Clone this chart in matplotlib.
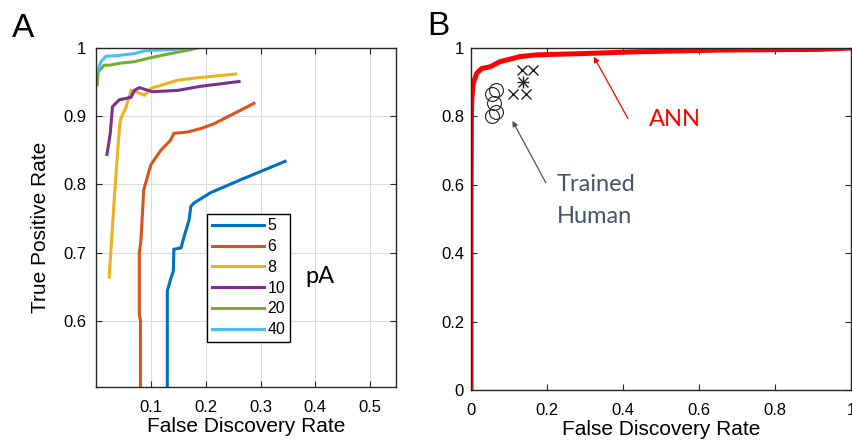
import numpy as np
import matplotlib.pyplot as plt
from matplotlib.ticker import FuncFormatter

plt.rcParams['font.family'] = ['Liberation Sans', 'DejaVu Sans']

# ── Panel A data: ROC-like curves for each noise level (pA) ──
levels = ['5', '6', '8', '10', '20', '40']
colors = ['#0072BD', '#D95319', '#EDB120', '#7E2F8E', '#77AC30', '#4DBEEE']

fdr_5 = [0.130, 0.130, 0.136, 0.141, 0.142, 0.155, 0.159, 0.170, 0.173, 0.179, 0.209, 0.264, 0.345]
tpr_5 = [0.504, 0.644, 0.661, 0.673, 0.705, 0.707, 0.719, 0.749, 0.768, 0.773, 0.788, 0.807, 0.834]

fdr_6 = [0.081, 0.081, 0.079, 0.079, 0.082, 0.087, 0.100, 0.118, 0.136, 0.142, 0.167, 0.191, 0.215, 0.288]
tpr_6 = [0.504, 0.600, 0.610, 0.700, 0.719, 0.792, 0.829, 0.850, 0.865, 0.875, 0.877, 0.882, 0.889, 0.919]

fdr_8 = [0.024, 0.033, 0.041, 0.044, 0.055, 0.064, 0.076, 0.088, 0.100, 0.149, 0.191, 0.255]
tpr_8 = [0.664, 0.776, 0.865, 0.894, 0.914, 0.938, 0.935, 0.931, 0.941, 0.953, 0.957, 0.962]

fdr_10 = [0.020, 0.026, 0.030, 0.042, 0.064, 0.070, 0.079, 0.103, 0.149, 0.191, 0.261]
tpr_10 = [0.844, 0.875, 0.914, 0.924, 0.928, 0.938, 0.942, 0.936, 0.938, 0.944, 0.951]

fdr_20 = [0.002, 0.004, 0.015, 0.025, 0.045, 0.070, 0.100, 0.130, 0.161, 0.185]
tpr_20 = [0.946, 0.965, 0.975, 0.975, 0.978, 0.980, 0.986, 0.991, 0.996, 1.000]

fdr_40 = [0.002, 0.009, 0.018, 0.039, 0.070, 0.088, 0.112, 0.142, 0.164]
tpr_40 = [0.965, 0.980, 0.988, 0.989, 0.992, 0.996, 0.997, 0.998, 1.000]

curves_fdr = [fdr_5, fdr_6, fdr_8, fdr_10, fdr_20, fdr_40]
curves_tpr = [tpr_5, tpr_6, tpr_8, tpr_10, tpr_20, tpr_40]

# ── Panel B data: ANN curve + trained human points ──
ann_fdr = [0.0, 0.0, 0.001, 0.002, 0.006, 0.015, 0.028, 0.050, 0.076, 0.129, 0.172, 0.301, 0.435, 0.654, 0.916, 1.0]
ann_tpr = [0.0, 0.507, 0.780, 0.848, 0.897, 0.926, 0.940, 0.945, 0.960, 0.975, 0.980, 0.984, 0.989, 0.994, 0.996, 1.0]

human_o_fdr = [0.054, 0.066, 0.060, 0.054, 0.066]
human_o_tpr = [0.800, 0.814, 0.840, 0.867, 0.877]
human_x_fdr = [0.133, 0.164, 0.111, 0.145, 0.137]
human_x_tpr = [0.936, 0.936, 0.865, 0.865, 0.901]

fig = plt.figure(figsize=(8.52, 4.43), dpi=100)
axA = fig.add_axes([0.1127, 0.1264, 0.352, 0.765])
axB = fig.add_axes([0.5528, 0.1196, 0.446, 0.772])

spine_c = '#262626'

# ── Panel A ──
for fx, ty, c, lab in zip(curves_fdr, curves_tpr, colors, levels):
    axA.plot(fx, ty, color=c, lw=2.2, label=lab, solid_joinstyle='miter')

axA.set_xlim(0.0, 0.547)
axA.set_ylim(0.503, 1.0)
axA.set_xticks([0.1, 0.2, 0.3, 0.4, 0.5])
axA.set_yticks([0.6, 0.7, 0.8, 0.9, 1.0])
axA.grid(True, color='#dcdcdc', lw=0.8)
axA.set_axisbelow(True)
axA.set_xlabel('False Discovery Rate', fontsize=15, labelpad=2)
axA.set_ylabel('True Positive Rate', fontsize=15)
axA.yaxis.set_label_coords(-0.155, 0.47)
leg = axA.legend(loc='lower left', bbox_to_anchor=(0.37, 0.133), fontsize=11.5,
                 handlelength=3.3, handletextpad=0.2, labelspacing=0.36,
                 borderpad=0.3, borderaxespad=0, fancybox=False,
                 edgecolor='black', framealpha=1)
leg.get_frame().set_linewidth(1.0)
axA.text(0.382, 0.656, 'pA', fontsize=17, family=['Lato', 'DejaVu Sans'],
         ha='left', va='baseline')

# ── Panel B ──
axB.plot(ann_fdr, ann_tpr, color='#ff0000', lw=3.6, solid_joinstyle='round')
axB.plot(human_o_fdr, human_o_tpr, 'o', mfc='none', mec='#222222', ms=10, mew=0.8)
axB.plot(human_x_fdr, human_x_tpr, 'x', color='#222222', ms=7, mew=1.0)
axB.plot([0.137], [0.901], '+', color='#222222', ms=8, mew=1.0)
axB.set_xlim(0, 1)
axB.set_ylim(0, 1)
axB.set_xticks(np.arange(0, 1.01, 0.2))
axB.set_yticks(np.arange(0, 1.01, 0.2))
axB.set_xlabel('False Discovery Rate', fontsize=15, labelpad=2)

axB.annotate('', xy=(0.323, 0.975), xytext=(0.413, 0.794),
             arrowprops=dict(arrowstyle='-|>', color='#ff0000', lw=0.9,
                             mutation_scale=8, shrinkA=0, shrinkB=0))
axB.text(0.469, 0.772, 'ANN', color='#ff0000', fontsize=17,
         family=['Lato', 'DejaVu Sans'], ha='left', va='baseline')
axB.annotate('', xy=(0.109, 0.787), xytext=(0.197, 0.606),
             arrowprops=dict(arrowstyle='-|>', color='#44546A', lw=0.9,
                             mutation_scale=8, shrinkA=0, shrinkB=0))
axB.text(0.226, 0.583, 'Trained', color='#44546A', fontsize=17,
         family=['Lato', 'DejaVu Sans'], ha='left', va='baseline')
axB.text(0.226, 0.487, 'Human', color='#44546A', fontsize=17,
         family=['Lato', 'DejaVu Sans'], ha='left', va='baseline')

fmt = FuncFormatter(lambda v, p: f'{v:g}')
for ax in (axA, axB):
    ax.xaxis.set_major_formatter(fmt)
    ax.yaxis.set_major_formatter(fmt)
    ax.tick_params(direction='in', top=True, right=True, length=4,
                   width=0.8, labelsize=12, colors=spine_c, labelcolor='black')
    ax.tick_params(axis='x', pad=9)
    for s in ax.spines.values():
        s.set_color(spine_c)
        s.set_linewidth(1.0)
axA.tick_params(axis='y', pad=7)
axB.tick_params(axis='y', pad=5)

fig.text(0.014, 0.9165, 'A', fontsize=24, ha='left', va='baseline')
fig.text(0.502, 0.921, 'B', fontsize=24, ha='left', va='baseline')

fig.savefig('out.png', dpi=100)
